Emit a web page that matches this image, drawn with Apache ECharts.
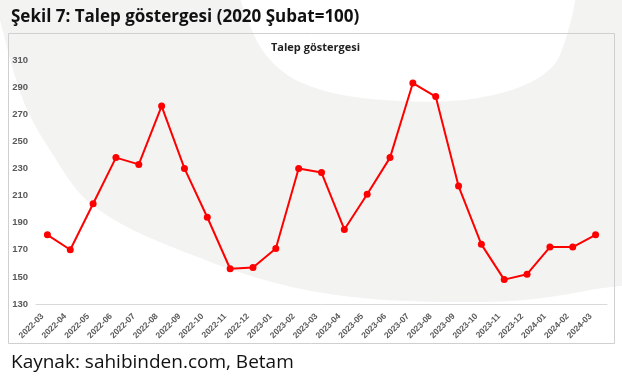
<!DOCTYPE html>
<html>
<head>
<meta charset="utf-8">
<script src="https://cdn.jsdelivr.net/npm/echarts@6/dist/echarts.min.js"></script>
<style>
  html, body { margin: 0; padding: 0; background: #fff; }
  #chart { width: 622px; height: 377px; }
</style>
</head>
<body>
<div id="chart"></div>
<script>
// aylar
const months = [
  '2022-03', '2022-04', '2022-05', '2022-06', '2022-07', '2022-08', '2022-09',
  '2022-10', '2022-11', '2022-12', '2023-01', '2023-02', '2023-03', '2023-04',
  '2023-05', '2023-06', '2023-07', '2023-08', '2023-09', '2023-10', '2023-11',
  '2023-12', '2024-01', '2024-02', '2024-03'
]
// talep göstergesi (2020 Şubat = 100)
const demand = [
  181, 170, 204, 238, 233, 276, 230, 194, 156, 157, 171, 230, 227,
  185, 211, 238, 293, 283, 217, 174, 148, 152, 172, 172, 181
]
const yMin = 130
const yMax = 310
const yStep = 20

const chart = echarts.init(document.getElementById('chart'))

const option = {
  animation: false,
  backgroundColor: '#fff',
  title: [
    {
      text: 'Şekil 7: Talep göstergesi (2020 Şubat=100)',
      left: 6,
      top: 4,
      textStyle: { fontFamily: 'Open Sans', fontWeight: 'bold', fontSize: 17, color: '#111' }
    },
    {
      text: 'Talep göstergesi',
      left: 266,
      top: 37,
      textStyle: { fontFamily: 'Open Sans', fontWeight: 'bold', fontSize: 11, color: '#1f1f1f' }
    },
    {
      text: 'Kaynak: sahibinden.com, Betam',
      left: 6,
      top: 348,
      textStyle: { fontFamily: 'Open Sans', fontWeight: 'normal', fontSize: 19, color: '#111' }
    }
  ],
  graphic: [
    // arka plandaki gri kavis (dekor)
    {
      type: 'polygon',
      z: -10,
      silent: true,
      shape: {
        smooth: 0.35,
        points: [
          [-20, -60], [0, 20], [23, 100], [50, 150],
          [90, 203], [167, 245], [311, 291],
          [480, 302], [590, 290], [660, 265], [680, -60]
        ]
      },
      style: { fill: '#f3f3f2' }
    },
    {
      type: 'polygon',
      z: -9,
      silent: true,
      shape: {
        smooth: 0.35,
        points: [
          [244, -50], [254, 35], [300, 82], [400, 101],
          [505, 92], [560, 55], [562, -50]
        ]
      },
      style: { fill: '#ffffff' }
    },
    {
      type: 'rect',
      z: -5,
      silent: true,
      shape: { x: 8.5, y: 33.5, width: 606, height: 310 },
      style: { fill: 'transparent', stroke: '#d0d0d0', lineWidth: 1 }
    }
  ],
  grid: { left: 36, right: 15, top: 60, bottom: 73 },
  xAxis: {
    type: 'category',
    data: months,
    axisLine: { lineStyle: { color: '#d9d9d9' } },
    axisTick: { show: false },
    axisLabel: {
      rotate: 45,
      interval: 0,
      margin: 6,
      padding: [0, 7, 0, 0],
      fontFamily: 'Liberation Sans',
      fontWeight: 'bold',
      fontSize: 8.5,
      color: '#595959'
    }
  },
  yAxis: {
    type: 'value',
    min: yMin,
    max: yMax,
    interval: yStep,
    splitLine: { show: false },
    axisLine: { show: false },
    axisTick: { show: false },
    axisLabel: {
      margin: 8,
      fontFamily: 'Liberation Sans',
      fontWeight: 'bold',
      fontSize: 9.5,
      color: '#595959'
    }
  },
  series: [
    {
      name: 'Talep göstergesi',
      type: 'line',
      data: demand,
      symbol: 'circle',
      symbolSize: 7,
      itemStyle: { color: '#ff0000' },
      lineStyle: { color: '#ff0000', width: 2 }
    }
  ]
}

chart.setOption(option)
</script>
</body>
</html>
